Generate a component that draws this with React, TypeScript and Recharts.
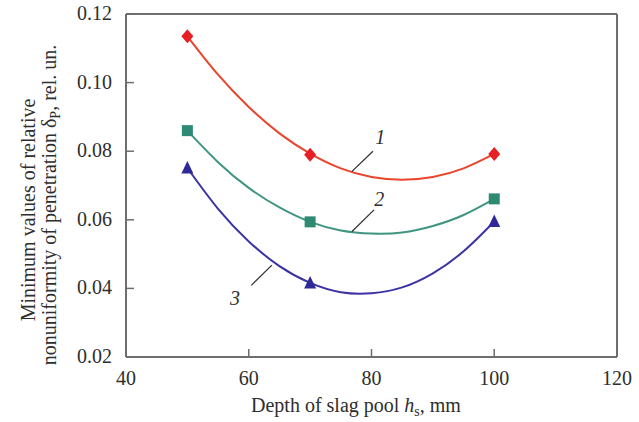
import {
  ComposedChart,
  Line,
  Scatter,
  XAxis,
  YAxis,
  ReferenceLine,
  ReferenceDot,
} from 'recharts';

// measured points
const depth = [50, 70, 100];
const measured1 = [0.1135, 0.079, 0.0792];
const measured2 = [0.086, 0.0594, 0.0661];
const measured3 = [0.0751, 0.0416, 0.0595];

// fitted curves, every 5 mm
const curveDepth = [50, 55, 60, 65, 70, 75, 80, 85, 90, 95, 100];
const curve1 = [0.1135, 0.1023, 0.0929, 0.0852, 0.0793, 0.075, 0.0725, 0.0717, 0.0725, 0.075, 0.0792];
const curve2 = [0.086, 0.0768, 0.0693, 0.0636, 0.0594, 0.0569, 0.056, 0.0563, 0.0582, 0.0614, 0.0661];
const curve3 = [0.0751, 0.0632, 0.0537, 0.0465, 0.0416, 0.0389, 0.0386, 0.0403, 0.0444, 0.0508, 0.0595];

const xTicks = [40, 60, 80, 100, 120];
const yTicks = [0.02, 0.04, 0.06, 0.08, 0.1, 0.12];

const FONT = '"Liberation Serif", "Times New Roman", serif';
const AXIS = '#6e6e6e';
const TEXT = '#2e2e2e';

const RED = '#e9452c';
const RED_MARK = '#e51f23';
const GREEN = '#3f9581';
const GREEN_MARK = '#2f8a74';
const BLUE = '#3b33a3';
const BLUE_MARK = '#2e2899';

const toPoints = (xs: number[], ys: number[]) => xs.map((x, i) => ({ x, y: ys[i] }));

const Diamond = ({ cx, cy }: any) => (
  <polygon points={`${cx},${cy - 7} ${cx + 6},${cy} ${cx},${cy + 7} ${cx - 6},${cy}`} fill={RED_MARK} />
);
const Square = ({ cx, cy }: any) => <rect x={cx - 5.5} y={cy - 5.5} width={11} height={11} fill={GREEN_MARK} />;
const Triangle = ({ cx, cy }: any) => (
  <polygon points={`${cx},${cy - 7} ${cx + 6},${cy + 5.5} ${cx - 6},${cy + 5.5}`} fill={BLUE_MARK} />
);

const XTick = ({ x, y, payload }: any) => (
  <g>
    <line x1={x} x2={x} y1={y} y2={y - 8} stroke={AXIS} strokeWidth={1.5} />
    <text x={x} y={y + 28} textAnchor="middle" fontFamily={FONT} fontSize={20} fill={TEXT}>
      {payload.value}
    </text>
  </g>
);

const YTick = ({ x, y, payload }: any) => (
  <g>
    <line x1={x} x2={x + 8} y1={y} y2={y} stroke={AXIS} strokeWidth={1.5} />
    <text x={x - 14} y={y + 6} textAnchor="end" fontFamily={FONT} fontSize={20} fill={TEXT}>
      {payload.value.toFixed(2)}
    </text>
  </g>
);

const XTitle = () => (
  <text x={356} y={412} textAnchor="middle" fontFamily={FONT} fontSize={20} fill={TEXT}>
    Depth of slag pool <tspan fontStyle="italic">h</tspan>
    <tspan fontSize={14} dy={4}>s</tspan>
    <tspan dy={-4}>, mm</tspan>
  </text>
);

const YTitle = () => (
  <g fontFamily={FONT} fontSize={20} fill={TEXT}>
    <text x={35} y={210} textAnchor="middle" transform="rotate(-90 35 210)">
      Minimum values of relative
    </text>
    <text x={56} y={205} textAnchor="middle" transform="rotate(-90 56 205)">
      nonuniformity of penetration δ<tspan fontSize={14} dy={4}>P</tspan>
      <tspan dy={-4}>, rel. un.</tspan>
    </text>
  </g>
);

const curveLabel = (value: string) => ({
  value,
  position: 'center' as const,
  fontFamily: FONT,
  fontSize: 20,
  fontStyle: 'italic',
  fill: TEXT,
});

export default function App() {
  return (
    <div style={{ position: 'absolute', left: 0, top: 0, background: '#fff' }}>
      <ComposedChart width={639} height={422} margin={{ top: 14, right: 22, left: 66, bottom: 35 }}>
        <XAxis
          type="number"
          dataKey="x"
          domain={[40, 120]}
          ticks={xTicks}
          interval={0}
          height={30}
          tickSize={0}
          tickMargin={0}
          tickLine={false}
          tick={<XTick />}
          axisLine={{ stroke: AXIS, strokeWidth: 2 }}
          label={{ content: <XTitle /> }}
          allowDataOverflow
        />
        <YAxis
          type="number"
          dataKey="y"
          domain={[0.02, 0.12]}
          ticks={yTicks}
          interval={0}
          width={60}
          tickSize={0}
          tickMargin={0}
          tickLine={false}
          tick={<YTick />}
          axisLine={{ stroke: AXIS, strokeWidth: 2 }}
          label={{ content: <YTitle /> }}
          allowDataOverflow
        />
        <ReferenceLine y={0.12} stroke={AXIS} strokeWidth={2} />
        <ReferenceLine x={120} stroke={AXIS} strokeWidth={2} />

        <Line data={toPoints(curveDepth, curve1)} dataKey="y" type="natural" stroke={RED} strokeWidth={2} dot={false} isAnimationActive={false} />
        <Line data={toPoints(curveDepth, curve2)} dataKey="y" type="natural" stroke={GREEN} strokeWidth={2} dot={false} isAnimationActive={false} />
        <Line data={toPoints(curveDepth, curve3)} dataKey="y" type="natural" stroke={BLUE} strokeWidth={2} dot={false} isAnimationActive={false} />

        <Scatter data={toPoints(depth, measured1)} dataKey="y" shape={<Diamond />} isAnimationActive={false} />
        <Scatter data={toPoints(depth, measured2)} dataKey="y" shape={<Square />} isAnimationActive={false} />
        <Scatter data={toPoints(depth, measured3)} dataKey="y" shape={<Triangle />} isAnimationActive={false} />

        {/* curve number callouts */}
        <ReferenceLine segment={[{ x: 80.24, y: 0.08 }, { x: 76.82, y: 0.0741 }]} stroke={TEXT} strokeWidth={1.2} />
        <ReferenceLine segment={[{ x: 80.41, y: 0.0629 }, { x: 76.82, y: 0.0566 }]} stroke={TEXT} strokeWidth={1.2} />
        <ReferenceLine segment={[{ x: 60.42, y: 0.0409 }, { x: 63.77, y: 0.0468 }]} stroke={TEXT} strokeWidth={1.2} />
        <ReferenceDot x={81.43} y={0.0842} r={0.1} fillOpacity={0} stroke="none" label={curveLabel('1')} />
        <ReferenceDot x={81.27} y={0.0662} r={0.1} fillOpacity={0} stroke="none" label={curveLabel('2')} />
        <ReferenceDot x={57.74} y={0.0372} r={0.1} fillOpacity={0} stroke="none" label={curveLabel('3')} />
      </ComposedChart>
    </div>
  );
}
